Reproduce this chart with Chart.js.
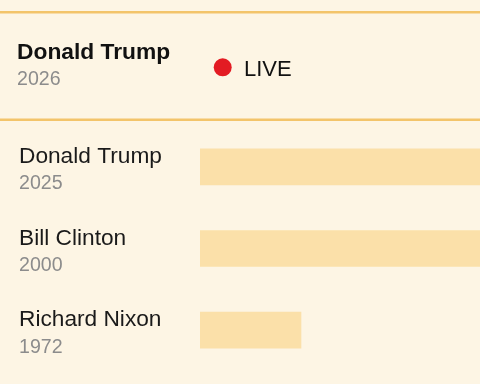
<!DOCTYPE html>
<html>
<head>
<meta charset="utf-8">
<script src="https://cdn.jsdelivr.net/npm/chart.js@4"></script>
<style>
html,body{margin:0;padding:0;background:#fdf5e4;}
#wrap{position:relative;width:480px;height:384px;}
</style>
</head>
<body>
<div id="wrap"><canvas id="c" width="480" height="384"></canvas></div>
<script>
// Data: speech lengths (minutes)
const presidents = ["Donald Trump", "Bill Clinton", "Richard Nixon"];
const years = ["2025", "2000", "1972"];
const minutes = [99.5, 89, 29];
const liveName = "Donald Trump";
const liveYear = "2026";
const liveLabel = "LIVE";

const BG = "#fdf5e4";
const BAR = "#fbe0a9";
const RULE = "#f3c46a";

const drawPlugin = {
  id: "customDraw",
  beforeDraw(chart) {
    const ctx = chart.ctx;
    ctx.save();
    ctx.fillStyle = BG;
    ctx.fillRect(0, 0, chart.width, chart.height);
    ctx.restore();
  },
  afterDraw(chart) {
    const ctx = chart.ctx;
    const y = chart.scales.y;
    ctx.save();
    ctx.fillStyle = RULE;
    ctx.fillRect(0, 11, chart.width, 2.5);
    ctx.fillRect(0, 118.5, chart.width, 2.5);
    ctx.textBaseline = "alphabetic";
    ctx.textAlign = "left";
    ctx.fillStyle = "#111111";
    ctx.font = "bold 22.8px 'Liberation Sans', Arial, sans-serif";
    ctx.fillText(liveName, 17, 59);
    ctx.fillStyle = "#8c8c8c";
    ctx.font = "19.6px 'Liberation Sans', Arial, sans-serif";
    ctx.fillText(liveYear, 17, 85);
    ctx.fillStyle = "#e31b23";
    ctx.beginPath();
    ctx.arc(222.7, 67.3, 9, 0, Math.PI * 2);
    ctx.fill();
    ctx.fillStyle = "#111111";
    ctx.font = "22px 'Liberation Sans', Arial, sans-serif";
    ctx.fillText(liveLabel, 244, 76);
    presidents.forEach((name, i) => {
      const cy = y.getPixelForValue(i);
      ctx.fillStyle = "#1a1a1a";
      ctx.font = "22.7px 'Liberation Sans', Arial, sans-serif";
      ctx.fillText(name, 19, cy - 4);
      ctx.fillStyle = "#8c8c8c";
      ctx.font = "19.6px 'Liberation Sans', Arial, sans-serif";
      ctx.fillText(years[i], 19, cy + 22.5);
    });
    ctx.restore();
  }
};

new Chart(document.getElementById("c"), {
  type: "bar",
  data: {
    labels: presidents,
    datasets: [{
      data: minutes,
      backgroundColor: BAR,
      borderWidth: 0,
      barThickness: 36
    }]
  },
  options: {
    indexAxis: "y",
    responsive: false,
    animation: false,
    devicePixelRatio: 1,
    layout: { padding: { left: 200, right: 0, top: 126, bottom: 13 } },
    plugins: { legend: { display: false }, tooltip: { enabled: false } },
    scales: {
      x: { display: false, min: 0, max: 80.4 },
      y: { display: false, offset: true }
    }
  },
  plugins: [drawPlugin]
});
</script>
</body>
</html>
